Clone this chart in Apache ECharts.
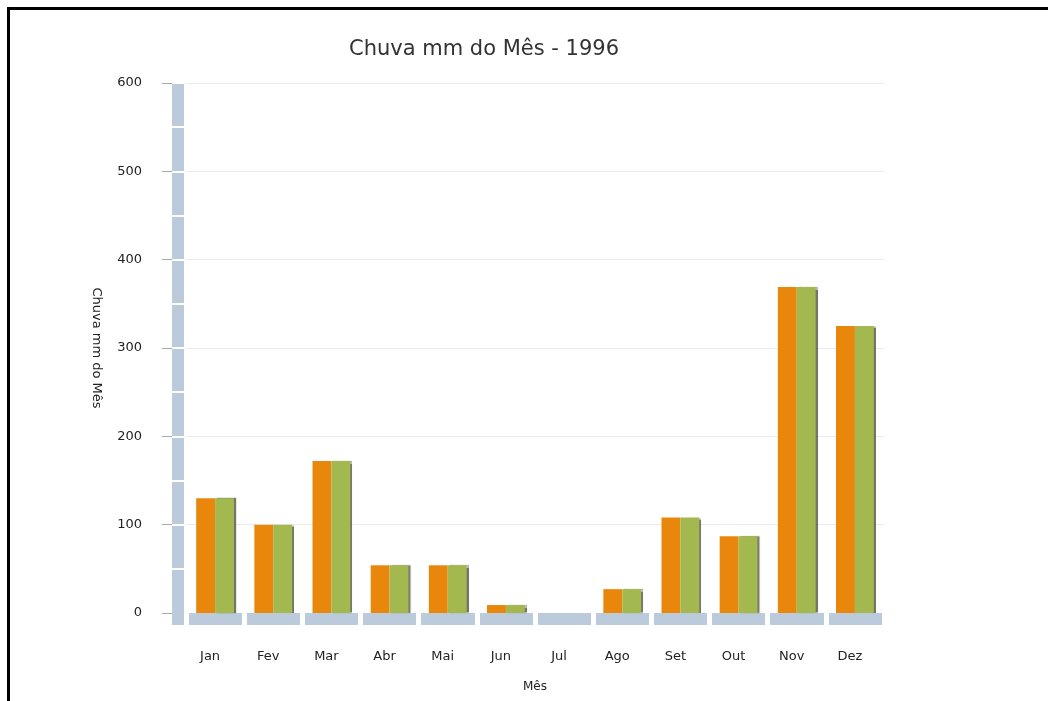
<!DOCTYPE html>
<html>
<head>
<meta charset="utf-8">
<script src="https://cdn.jsdelivr.net/npm/echarts@6/dist/echarts.min.js"></script>
<style>
html,body{margin:0;padding:0;background:#fff;}
#frame{position:absolute;left:7px;top:7px;width:1100px;height:800px;border-top:3px solid #000;border-left:3px solid #000;box-sizing:border-box;}
#chart{position:absolute;left:0;top:0;width:1048px;height:701px;}
</style>
</head>
<body>
<div id="frame"></div>
<div id="chart"></div>
<script>
const titleText = 'Chuva mm do Mês - 1996';
const months = ['Jan','Fev','Mar','Abr','Mai','Jun','Jul','Ago','Set','Out','Nov','Dez'];
const chuvaA = [130, 100, 172, 54, 54, 9, 0, 27, 108, 87, 369, 325];
const chuvaB = [130, 100, 172, 54, 54, 9, 0, 27, 108, 87, 369, 325];
const yMin = 0, yMax = 600, yStep = 100, yMinorStep = 50;

const chart = echarts.init(document.getElementById('chart'), null, {renderer:'canvas'});
const axisBlue = '#bccbdc';
const font = 'DejaVu Sans, Verdana, sans-serif';
chart.setOption({
  animation: false,
  backgroundColor: 'transparent',
  title: {
    text: titleText, left: 479, top: 34, textAlign: 'center',
    textStyle: {fontFamily: font, fontSize: 21, fontWeight: 'normal', color: '#333'}
  },
  grid: {left: 186, right: 164, top: 83, bottom: 88, containLabel: false},
  xAxis: [
    {
      type: 'category', data: months, position: 'bottom', offset: 6,
      axisLine: {show: true, onZero: false, lineStyle: {color: axisBlue, width: 12, cap: 'butt'}},
      axisTick: {show: true, inside: true, length: 7, lineStyle: {color: '#fff', width: 5}},
      axisLabel: {margin: 31, fontFamily: font, fontSize: 13, color: '#222', padding: [0, 10, 0, 0]},
      name: 'Mês', nameLocation: 'middle', nameGap: 62,
      nameTextStyle: {fontFamily: font, fontSize: 12, color: '#222'},
      splitLine: {show: false}
    },
    {
      type: 'category', data: months, position: 'bottom', offset: 6,
      axisLine: {show: false, onZero: false},
      axisTick: {show: true, inside: false, length: 7, lineStyle: {color: '#fff', width: 5}},
      axisLabel: {show: false},
      splitLine: {show: false}
    }
  ],
  yAxis: [
    {
      type: 'value', min: yMin, max: yMax, interval: yMinorStep, position: 'left', offset: 8,
      axisLine: {show: true, onZero: false, symbol: ['rect', 'none'], symbolSize: [12, 24],
                 lineStyle: {color: axisBlue, width: 12, cap: 'butt'}},
      axisTick: {show: true, inside: false, length: 6, lineStyle: {color: '#fff', width: 2}},
      axisLabel: {show: false}, splitLine: {show: false}
    },
    {
      type: 'value', min: yMin, max: yMax, interval: yMinorStep, position: 'left', offset: 8,
      axisLine: {show: false, onZero: false},
      axisTick: {show: true, inside: true, length: 6, lineStyle: {color: '#fff', width: 2}},
      axisLabel: {show: false}, splitLine: {show: false}
    },
    {
      type: 'value', min: yMin, max: yMax, interval: yStep, position: 'left', offset: 14,
      axisLine: {show: false, onZero: false},
      axisTick: {show: true, inside: false, length: 10, lineStyle: {color: '#aaa', width: 1}},
      axisLabel: {margin: 30, fontFamily: font, fontSize: 13, color: '#222'},
      splitLine: {show: true, lineStyle: {color: '#ececec', width: 1}},
      name: 'Chuva mm do Mês', nameLocation: 'middle', nameGap: 69, nameRotate: -90,
      nameTextStyle: {fontFamily: font, fontSize: 13, color: '#222'}
    }
  ],
  series: [
    {
      type: 'bar', name: 'A', data: chuvaA, xAxisIndex: 0, yAxisIndex: 2,
      barGap: '0%', barCategoryGap: '35%',
      itemStyle: {color: '#e8870b'}
    },
    {
      type: 'bar', name: 'B', data: chuvaB, xAxisIndex: 0, yAxisIndex: 2,
      barGap: '0%', barCategoryGap: '35%',
      itemStyle: {color: '#a3b84f', shadowColor: 'rgba(60,60,40,0.7)', shadowOffsetX: 2, shadowBlur: 1}
    }
  ]
});
</script>
</body>
</html>
